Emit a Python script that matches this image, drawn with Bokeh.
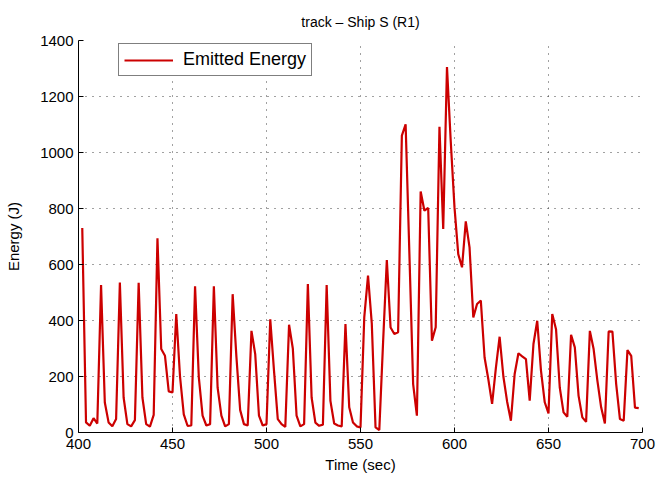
from bokeh.plotting import figure
from bokeh.models import Range1d, FixedTicker, Legend, LegendItem
from bokeh.embed import file_html
from bokeh.resources import INLINE

# sample times (sec), every 2 s
time_sec = list(range(402, 700, 2))
# emitted energy (J)
energy = [
    730, 36, 24, 51, 32, 527, 107, 36, 22, 48,
    536, 125, 30, 22, 44, 535, 125, 30, 21, 63,
    694, 298, 274, 147, 143, 423, 200, 65, 24, 25,
    522, 197, 60, 25, 30, 522, 160, 60, 22, 30,
    494, 270, 80, 30, 25, 363, 280, 60, 25, 30,
    404, 220, 48, 30, 20, 385, 300, 60, 22, 30,
    530, 125, 35, 24, 28, 527, 113, 32, 25, 22,
    387, 90, 36, 22, 18, 411, 560, 390, 18, 9,
    320, 616, 375, 352, 358, 1060, 1101, 640, 173, 60,
    861, 792, 802, 328, 376, 1092, 727, 1305, 1040, 804,
    637, 590, 754, 661, 411, 459, 471, 268, 190, 102,
    230, 342, 200, 110, 42, 209, 283, 272, 262, 114,
    316, 399, 221, 108, 68, 423, 369, 160, 72, 56,
    349, 304, 131, 54, 38, 363, 298, 185, 90, 32,
    361, 360, 173, 48, 42, 294, 274, 89, 87,
]
x_ticks = [400, 450, 500, 550, 600, 650, 700]
y_ticks = [0, 200, 400, 600, 800, 1000, 1200, 1400]

FONT = "Liberation Sans"

p = figure(width=658, height=478,
           x_range=Range1d(400, 700), y_range=Range1d(0, 1400),
           output_backend="svg", toolbar_location=None,
           min_border_left=78, min_border_right=16,
           min_border_top=40, min_border_bottom=46)

p.title.text = "track \u2013 Ship S (R1)"
p.title.align = "center"
p.title.text_font = FONT
p.title.text_font_size = "14px"
p.title.text_font_style = "normal"
p.title.text_color = "black"
p.title.standoff = 21

p.outline_line_color = None
p.background_fill_color = "white"
p.border_fill_color = "white"

for ax in (p.xaxis[0], p.yaxis[0]):
    ax.axis_line_color = "black"
    ax.axis_line_width = 1
    ax.major_tick_in = 5
    ax.major_tick_out = 0
    ax.major_tick_line_color = "black"
    ax.minor_tick_line_color = None
    ax.major_label_text_font = FONT
    ax.major_label_text_font_size = "15px"
    ax.major_label_text_color = "black"
    ax.axis_label_text_font = FONT
    ax.axis_label_text_font_size = "15px"
    ax.axis_label_text_font_style = "normal"
    ax.axis_label_text_color = "black"

p.xaxis.ticker = FixedTicker(ticks=x_ticks)
p.yaxis.ticker = FixedTicker(ticks=y_ticks)
p.xaxis.axis_label = "Time (sec)"
p.yaxis.axis_label = "Energy (J)"
p.xaxis.major_label_standoff = 6
p.xaxis.axis_label_standoff = 4
p.yaxis.major_label_standoff = 5
p.yaxis.axis_label_standoff = 15

p.xgrid.ticker = FixedTicker(ticks=x_ticks)
p.ygrid.ticker = FixedTicker(ticks=y_ticks)
p.grid.grid_line_color = "#303030"
p.grid.grid_line_width = 1
p.grid.grid_line_dash = "1 6"
p.grid.grid_line_alpha = 0.9

r = p.line(time_sec, energy, line_color="#cc0000", line_width=2.2)

legend = Legend(items=[LegendItem(label="Emitted Energy", renderers=[r])],
                location=(40, 356))
legend.border_line_color = "black"
legend.border_line_width = 1
legend.background_fill_color = "white"
legend.background_fill_alpha = 1
legend.label_text_font = FONT
legend.label_text_font_size = "18px"
legend.label_text_color = "black"
legend.label_height = 20
legend.glyph_height = 20
legend.glyph_width = 49
legend.label_standoff = 10
legend.padding = 5
legend.margin = 0
p.add_layout(legend)

open("out.html", "w").write(file_html(p, INLINE))
